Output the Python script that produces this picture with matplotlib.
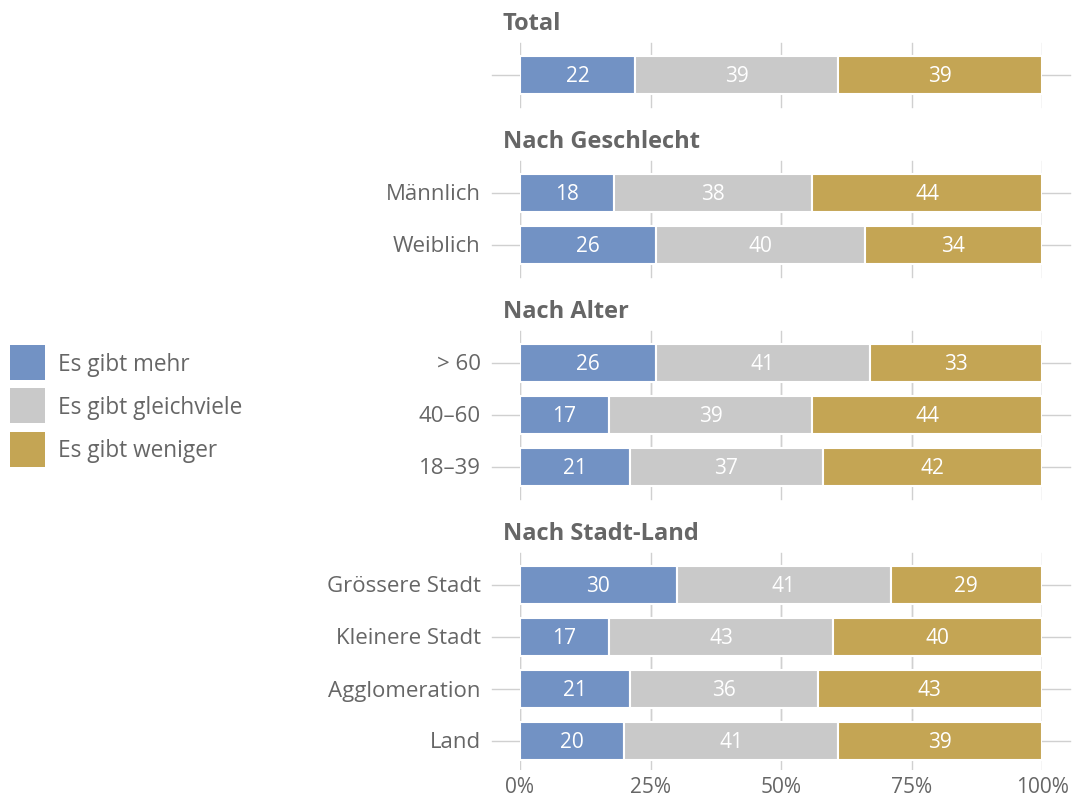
import matplotlib.pyplot as plt
from matplotlib.patches import Rectangle

plt.rcParams['font.family'] = ['Open Sans', 'DejaVu Sans']

# survey answers in percent: mehr / gleichviele / weniger
groups = ['Total', 'Nach Geschlecht', 'Nach Alter', 'Nach Stadt-Land']
rows = [
    [''],
    ['Männlich', 'Weiblich'],
    ['> 60', '40–60', '18–39'],
    ['Grössere Stadt', 'Kleinere Stadt', 'Agglomeration', 'Land'],
]
mehr = [[22], [18, 26], [26, 17, 21], [30, 17, 21, 20]]
gleich = [[39], [38, 40], [41, 39, 37], [41, 43, 36, 41]]
weniger = [[39], [44, 34], [33, 44, 42], [29, 40, 43, 39]]

series = ['Es gibt mehr', 'Es gibt gleichviele', 'Es gibt weniger']
colors = ['#7292C4', '#C9C9C9', '#C4A554']
ticks = [0, 25, 50, 75, 100]
tick_labels = ['0%', '25%', '50%', '75%', '100%']

text_col = '#666666'
grid_col = '#D0D0D0'

W, H = 1074, 801
fig = plt.figure(figsize=(W / 100, H / 100), dpi=100)
bottom_px = 770
ax = fig.add_axes([520 / W, 1 - bottom_px / H, (1042 - 520) / W, bottom_px / H])
ax.set_xlim(0, 100)
ax.set_ylim(bottom_px, 0)
for s in ax.spines.values():
    s.set_visible(False)
ax.set_yticks([])
ax.set_xticks(ticks)
ax.set_xticklabels(tick_labels)
ax.tick_params(axis='x', length=0, pad=5, labelsize=15, labelcolor=text_col)

bar_h = 38
pitch = 52
dy = 2  # nudge text down a little to sit centred on the bars
y = 22
for g, name in enumerate(groups):
    ax.text(-3.3, y + dy, name, ha='left', va='center', fontsize=17,
            fontweight='bold', color=text_col, clip_on=False)
    y += 53
    for i, lab in enumerate(rows[g]):
        # short grid segments and row line, behind the bars
        for t in ticks:
            ax.plot([t, t], [y - 32, y + 32], color=grid_col, lw=1, zorder=0)
        ax.plot([-5.4, 105.4], [y, y], color=grid_col, lw=1, zorder=0,
                clip_on=False)
        vals = [mehr[g][i], gleich[g][i], weniger[g][i]]
        left = 0
        for v, c in zip(vals, colors):
            ax.barh(y, v, left=left, height=bar_h, color=c, edgecolor='white',
                    linewidth=1.5, zorder=2)
            ax.text(left + v / 2, y + dy, str(v), ha='center', va='center',
                    fontsize=15, color='white', zorder=3)
            left += v
        ax.text(-7.5, y + dy, lab, ha='right', va='center', fontsize=16,
                color=text_col, clip_on=False)
        y += pitch
    y += 65 - pitch

# legend: colour squares with labels, left side
for k, (lab, c) in enumerate(zip(series, colors)):
    cy = 363 + 43 * k
    fig.patches.append(Rectangle((10 / W, 1 - (cy + 17.5) / H), 35 / W, 35 / H,
                                 transform=fig.transFigure, facecolor=c,
                                 edgecolor='none'))
    fig.text(58 / W, 1 - (cy + dy) / H, lab, ha='left', va='center',
             fontsize=16.3, color=text_col)

fig.savefig('out.png', dpi=100)
